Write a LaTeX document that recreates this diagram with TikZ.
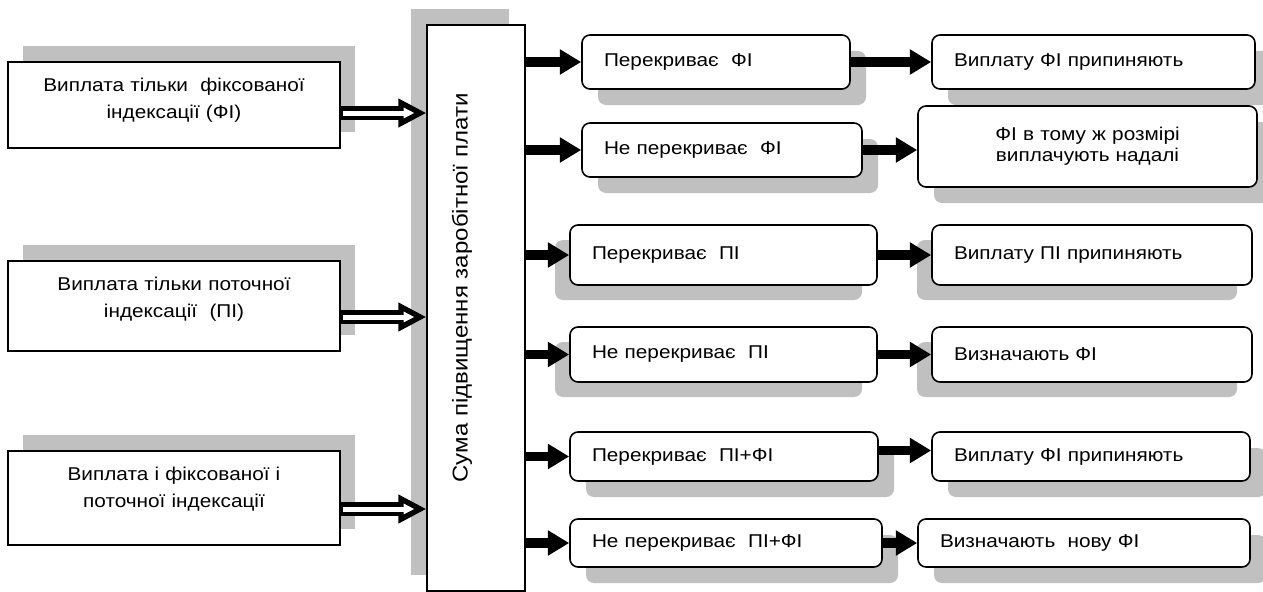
\documentclass[tikz,border=0pt]{standalone}
\usepackage{fontspec}
\setmainfont{Liberation Sans}[FakeStretch=1.12]
\usetikzlibrary{positioning,shadows,arrows.meta}
\definecolor{ShadowGray}{HTML}{C0C0C0}

\begin{document}
\begin{tikzpicture}[x=0.75pt,y=-0.75pt,
    font=\fontsize{13.9}{20.5}\selectfont,
    upright/.style={drop shadow={shadow xshift=11.25pt,shadow yshift=12pt,fill=ShadowGray,opacity=1}},
    upleft/.style={drop shadow={shadow xshift=-12pt,shadow yshift=12pt,fill=ShadowGray,opacity=1}},
    downright/.style={drop shadow={shadow xshift=12pt,shadow yshift=-12pt,fill=ShadowGray,opacity=1}},
    downleft/.style={drop shadow={shadow xshift=-11.25pt,shadow yshift=-11.25pt,fill=ShadowGray,opacity=1}},
    leftbox/.style={draw,line width=1.2pt,fill=white,minimum width=249pt,text width=235pt,
      align=center,inner sep=0pt,text height=21.75pt,text depth=#1,upright},
    rbox/.style 2 args={draw,line width=1.2pt,fill=white,rounded corners=6pt,align=left,
      inner xsep=16.5pt,inner ysep=0pt,text width=#1-33pt,minimum height=#2},
    solidarrow/.style={line width=7pt,-{Triangle[length=16pt,width=18pt]}},
    hollowout/.style={line width=10.5pt,-{Triangle[length=21pt,width=20.25pt]}},
    hollowin/.style={white,line width=3.75pt,-{Triangle[length=8pt,width=7.5pt]},
      shorten >=9pt,shorten <=2pt}]
  \useasboundingbox (0,0) rectangle (1263,592);

  % kinds of payment
  \node[leftbox=42.75pt] (fixpay) at (174,105) {Виплата тільки~ фіксованої\\індексації (ФІ)};
  \node[leftbox=45.75pt] (curpay) at (174,306) {Виплата тільки поточної\\індексації~ (ПІ)};
  \node[leftbox=48.75pt] (bothpay) at (174,498) {Виплата і фіксованої і\\поточної індексації};

  % wage rise
  \node[draw,line width=0.9pt,fill=white,minimum width=73.5pt,minimum height=424.5pt,
    inner sep=0pt,upleft] (sumbox) at (476,308) {};
  \node[rotate=90,inner sep=0pt,font=\fontsize{16.1}{19}\selectfont] (sumtext) at (462,288)
    {Сума підвищення заробітної плати};

  % outcomes
  \node[rbox={201pt}{40.5pt},downright] (fixcov) at (716,62) {Перекриває~ ФІ};
  \node[rbox={210pt}{40.5pt},downright] (fixnot) at (722,150) {Не перекриває~ ФІ};
  \node[rbox={230.25pt}{45pt},downleft] (curcov) at (723.5,255) {Перекриває~ ПІ};
  \node[rbox={230.25pt}{41.25pt},downleft] (curnot) at (723.5,354.5) {Не перекриває~ ПІ};
  \node[rbox={231pt}{36.75pt},downright] (bothcov) at (724,456.5) {Перекриває~ ПІ+ФІ};
  \node[rbox={234pt}{36pt},downright] (bothnot) at (726,543) {Не перекриває~ ПІ+ФІ};

  % decisions
  \node[rbox={242.25pt}{40.5pt},downright] (fixstop) at (1093.5,62) {Виплату ФІ припиняють};
  \node[rbox={254.25pt}{60.75pt},downright,align=center,
    font=\fontsize{13.9}{15.75}\selectfont] (fixkeep) at (1087.5,146.5) {ФІ в тому ж розмірі\\виплачують надалі};
  \node[rbox={240pt}{45pt},downleft] (curstop) at (1092,255) {Виплату ПІ припиняють};
  \node[rbox={240pt}{41.25pt},downleft] (fixset) at (1092,354.5) {Визначають ФІ};
  \node[rbox={238.5pt}{36.75pt},downright] (bothstop) at (1091,456.5) {Виплату ФІ припиняють};
  \node[rbox={249pt}{36pt},downright] (newfix) at (1084,543) {Визначають~ нову ФІ};

  % hollow arrows into the wage rise
  \coordinate (fixout) at ([yshift=-6pt]fixpay.east);
  \coordinate (curout) at ([yshift=-8.25pt]curpay.east);
  \coordinate (bothout) at ([yshift=-8.25pt]bothpay.east);
  \foreach \src in {fixout,curout,bothout} {
    \draw[hollowout] (\src) -- (\src -| sumbox.west);
    \draw[hollowin] (\src) -- (\src -| sumbox.west);
  }

  % solid arrows
  \foreach \dst in {fixcov,fixnot,curcov,curnot,bothcov,bothnot}
    \draw[solidarrow] (sumbox.east |- \dst.west) -- (\dst.west);
  \draw[solidarrow] (fixcov.east) -- (fixcov.east -| fixstop.west);
  \draw[solidarrow] (fixnot.east) -- (fixnot.east -| fixkeep.west);
  \draw[solidarrow] (curcov.east) -- (curcov.east -| curstop.west);
  \draw[solidarrow] (curnot.east) -- (curnot.east -| fixset.west);
  \draw[solidarrow] ([yshift=4.5pt]bothcov.east) -- ([yshift=4.5pt]bothcov.east -| bothstop.west);
  \draw[solidarrow] (bothnot.east) -- (bothnot.east -| newfix.west);
\end{tikzpicture}
\end{document}
